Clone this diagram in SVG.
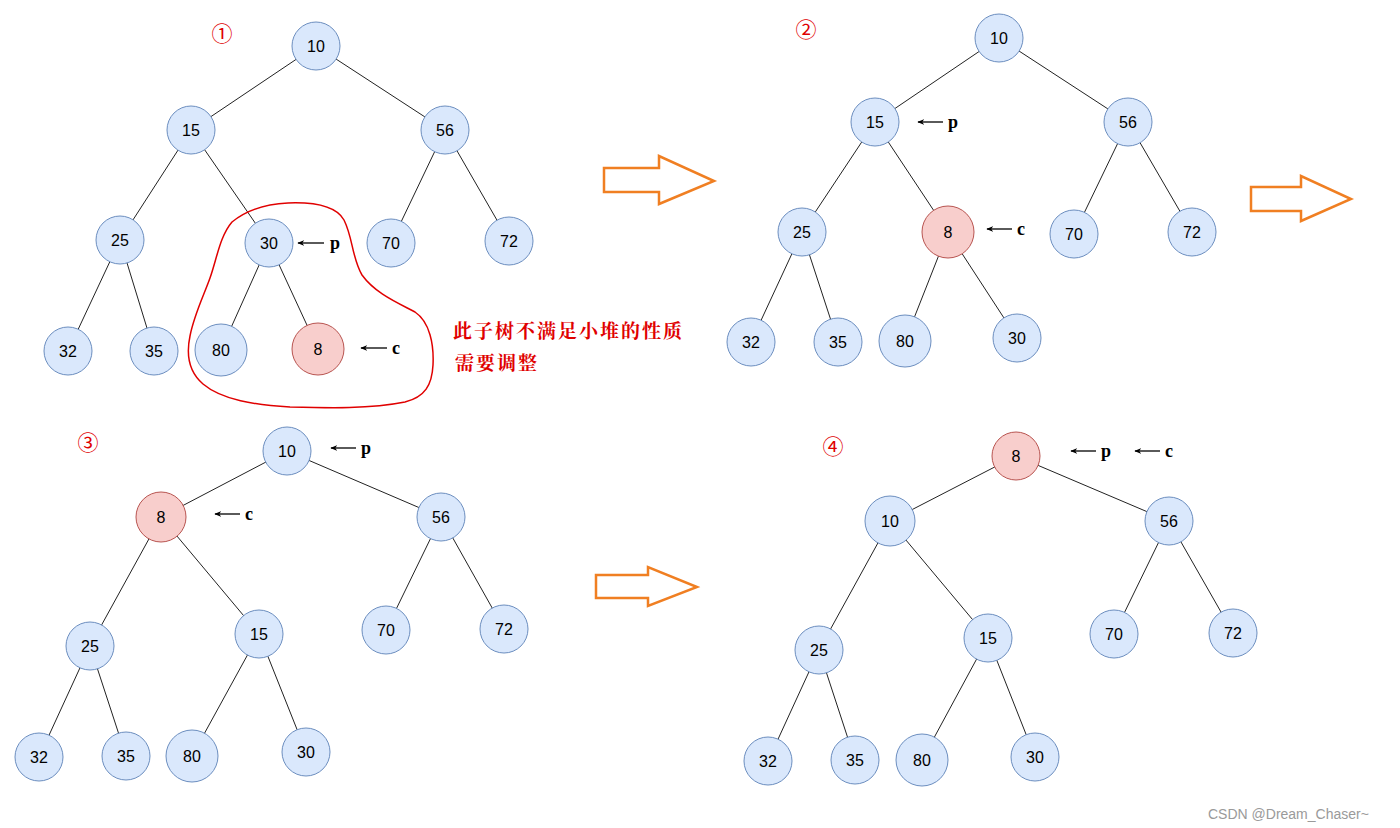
<svg xmlns="http://www.w3.org/2000/svg" width="1400" height="828" viewBox="0 0 1400 828">
<style>
.n{fill:#dae8fc;stroke:#6c8ebf;stroke-width:1}
.r{fill:#f8cecc;stroke:#b85450;stroke-width:1}
.t{font-family:"Liberation Sans",Arial,sans-serif;font-size:16px;fill:#000;text-anchor:middle;dominant-baseline:central}
.e{stroke:#222;stroke-width:1;fill:none}
.pa{stroke:#000;stroke-width:1.3;fill:none;marker-end:url(#ah)}
.pl{font-family:"Liberation Serif","Times New Roman",serif;font-size:18px;font-weight:bold;fill:#000;dominant-baseline:central}
.num{font-family:"Noto Sans CJK SC","DejaVu Sans",sans-serif;font-size:21px;fill:#e00000;text-anchor:middle;dominant-baseline:central}
.big{fill:#fff;stroke:#f07f22;stroke-width:2.5;stroke-linejoin:miter}
.note{font-family:"Noto Serif CJK SC","Noto Sans CJK SC",serif;font-size:19px;letter-spacing:2px;fill:#e00000;font-weight:bold}
</style>
<defs>
<marker id="ah" viewBox="0 0 10 10" refX="9" refY="5" markerWidth="7" markerHeight="7" orient="auto" markerUnits="userSpaceOnUse"><path d="M0,1 L10,5 L0,9 L3,5 Z" fill="#000"/></marker>
</defs>

<g id="connectors">
<line class="e" x1="316" y1="46" x2="191" y2="130"/>
<line class="e" x1="316" y1="46" x2="445" y2="130"/>
<line class="e" x1="191" y1="130" x2="120" y2="240"/>
<line class="e" x1="191" y1="130" x2="269" y2="243"/>
<line class="e" x1="445" y1="130" x2="391" y2="243"/>
<line class="e" x1="445" y1="130" x2="509" y2="241"/>
<line class="e" x1="120" y1="240" x2="68" y2="351"/>
<line class="e" x1="120" y1="240" x2="154" y2="351"/>
<line class="e" x1="269" y1="243" x2="221" y2="350"/>
<line class="e" x1="269" y1="243" x2="318" y2="349"/>
<line class="e" x1="999" y1="38" x2="875" y2="122"/>
<line class="e" x1="999" y1="38" x2="1128" y2="122"/>
<line class="e" x1="875" y1="122" x2="802" y2="232"/>
<line class="e" x1="875" y1="122" x2="948" y2="232"/>
<line class="e" x1="1128" y1="122" x2="1074" y2="234"/>
<line class="e" x1="1128" y1="122" x2="1192" y2="232"/>
<line class="e" x1="802" y1="232" x2="751" y2="342"/>
<line class="e" x1="802" y1="232" x2="838" y2="342"/>
<line class="e" x1="948" y1="232" x2="905" y2="341"/>
<line class="e" x1="948" y1="232" x2="1017" y2="338"/>
<line class="e" x1="287" y1="451" x2="161" y2="517"/>
<line class="e" x1="287" y1="451" x2="441" y2="517"/>
<line class="e" x1="161" y1="517" x2="90" y2="646"/>
<line class="e" x1="161" y1="517" x2="259" y2="634"/>
<line class="e" x1="441" y1="517" x2="386" y2="630"/>
<line class="e" x1="441" y1="517" x2="504" y2="629"/>
<line class="e" x1="90" y1="646" x2="39" y2="757"/>
<line class="e" x1="90" y1="646" x2="126" y2="756"/>
<line class="e" x1="259" y1="634" x2="192" y2="756"/>
<line class="e" x1="259" y1="634" x2="306" y2="752"/>
<line class="e" x1="1016" y1="456" x2="890" y2="521"/>
<line class="e" x1="1016" y1="456" x2="1169" y2="521"/>
<line class="e" x1="890" y1="521" x2="819" y2="650"/>
<line class="e" x1="890" y1="521" x2="988" y2="638"/>
<line class="e" x1="1169" y1="521" x2="1114" y2="634"/>
<line class="e" x1="1169" y1="521" x2="1233" y2="633"/>
<line class="e" x1="819" y1="650" x2="768" y2="761"/>
<line class="e" x1="819" y1="650" x2="855" y2="760"/>
<line class="e" x1="988" y1="638" x2="922" y2="760"/>
<line class="e" x1="988" y1="638" x2="1035" y2="757"/>
</g>

<g id="p1-10"><circle class="n" cx="316" cy="46" r="24"/><text class="t" x="316" y="46">10</text></g>
<g id="p1-15"><circle class="n" cx="191" cy="130" r="24"/><text class="t" x="191" y="130">15</text></g>
<g id="p1-56"><circle class="n" cx="445" cy="130" r="24"/><text class="t" x="445" y="130">56</text></g>
<g id="p1-25"><circle class="n" cx="120" cy="240" r="24"/><text class="t" x="120" y="240">25</text></g>
<g id="p1-30"><circle class="n" cx="269" cy="243" r="24"/><text class="t" x="269" y="243">30</text></g>
<g id="p1-70"><circle class="n" cx="391" cy="243" r="24"/><text class="t" x="391" y="243">70</text></g>
<g id="p1-72"><circle class="n" cx="509" cy="241" r="24"/><text class="t" x="509" y="241">72</text></g>
<g id="p1-32"><circle class="n" cx="68" cy="351" r="24"/><text class="t" x="68" y="351">32</text></g>
<g id="p1-35"><circle class="n" cx="154" cy="351" r="24"/><text class="t" x="154" y="351">35</text></g>
<g id="p1-80"><circle class="n" cx="221" cy="350" r="26"/><text class="t" x="221" y="350">80</text></g>
<g id="p1-8"><circle class="r" cx="318" cy="349" r="26"/><text class="t" x="318" y="349">8</text></g>

<g id="p2-10"><circle class="n" cx="999" cy="38" r="24"/><text class="t" x="999" y="38">10</text></g>
<g id="p2-15"><circle class="n" cx="875" cy="122" r="24"/><text class="t" x="875" y="122">15</text></g>
<g id="p2-56"><circle class="n" cx="1128" cy="122" r="24"/><text class="t" x="1128" y="122">56</text></g>
<g id="p2-25"><circle class="n" cx="802" cy="232" r="24"/><text class="t" x="802" y="232">25</text></g>
<g id="p2-8"><circle class="r" cx="948" cy="232" r="26"/><text class="t" x="948" y="232">8</text></g>
<g id="p2-70"><circle class="n" cx="1074" cy="234" r="24"/><text class="t" x="1074" y="234">70</text></g>
<g id="p2-72"><circle class="n" cx="1192" cy="232" r="24"/><text class="t" x="1192" y="232">72</text></g>
<g id="p2-32"><circle class="n" cx="751" cy="342" r="24"/><text class="t" x="751" y="342">32</text></g>
<g id="p2-35"><circle class="n" cx="838" cy="342" r="24"/><text class="t" x="838" y="342">35</text></g>
<g id="p2-80"><circle class="n" cx="905" cy="341" r="26"/><text class="t" x="905" y="341">80</text></g>
<g id="p2-30"><circle class="n" cx="1017" cy="338" r="24"/><text class="t" x="1017" y="338">30</text></g>

<g id="p3-10"><circle class="n" cx="287" cy="451" r="24"/><text class="t" x="287" y="451">10</text></g>
<g id="p3-8"><circle class="r" cx="161" cy="517" r="25"/><text class="t" x="161" y="517">8</text></g>
<g id="p3-56"><circle class="n" cx="441" cy="517" r="24"/><text class="t" x="441" y="517">56</text></g>
<g id="p3-25"><circle class="n" cx="90" cy="646" r="24"/><text class="t" x="90" y="646">25</text></g>
<g id="p3-15"><circle class="n" cx="259" cy="634" r="24"/><text class="t" x="259" y="634">15</text></g>
<g id="p3-70"><circle class="n" cx="386" cy="630" r="24"/><text class="t" x="386" y="630">70</text></g>
<g id="p3-72"><circle class="n" cx="504" cy="629" r="24"/><text class="t" x="504" y="629">72</text></g>
<g id="p3-32"><circle class="n" cx="39" cy="757" r="24"/><text class="t" x="39" y="757">32</text></g>
<g id="p3-35"><circle class="n" cx="126" cy="756" r="24"/><text class="t" x="126" y="756">35</text></g>
<g id="p3-80"><circle class="n" cx="192" cy="756" r="26"/><text class="t" x="192" y="756">80</text></g>
<g id="p3-30"><circle class="n" cx="306" cy="752" r="24"/><text class="t" x="306" y="752">30</text></g>

<g id="p4-8"><circle class="r" cx="1016" cy="456" r="24"/><text class="t" x="1016" y="456">8</text></g>
<g id="p4-10"><circle class="n" cx="890" cy="521" r="25"/><text class="t" x="890" y="521">10</text></g>
<g id="p4-56"><circle class="n" cx="1169" cy="521" r="24"/><text class="t" x="1169" y="521">56</text></g>
<g id="p4-25"><circle class="n" cx="819" cy="650" r="24"/><text class="t" x="819" y="650">25</text></g>
<g id="p4-15"><circle class="n" cx="988" cy="638" r="24"/><text class="t" x="988" y="638">15</text></g>
<g id="p4-70"><circle class="n" cx="1114" cy="634" r="24"/><text class="t" x="1114" y="634">70</text></g>
<g id="p4-72"><circle class="n" cx="1233" cy="633" r="24"/><text class="t" x="1233" y="633">72</text></g>
<g id="p4-32"><circle class="n" cx="768" cy="761" r="24"/><text class="t" x="768" y="761">32</text></g>
<g id="p4-35"><circle class="n" cx="855" cy="760" r="24"/><text class="t" x="855" y="760">35</text></g>
<g id="p4-80"><circle class="n" cx="922" cy="760" r="26"/><text class="t" x="922" y="760">80</text></g>
<g id="p4-30"><circle class="n" cx="1035" cy="757" r="24"/><text class="t" x="1035" y="757">30</text></g>

<g id="pointers">
<line class="pa" x1="324" y1="243" x2="298" y2="243"/><text class="pl" x="330" y="243">p</text>
<line class="pa" x1="387" y1="348" x2="361" y2="348"/><text class="pl" x="392" y="348">c</text>
<line class="pa" x1="943" y1="122" x2="918" y2="122"/><text class="pl" x="948" y="122">p</text>
<line class="pa" x1="1012" y1="229" x2="987" y2="229"/><text class="pl" x="1017" y="229">c</text>
<line class="pa" x1="356" y1="448" x2="331" y2="448"/><text class="pl" x="361" y="448">p</text>
<line class="pa" x1="240" y1="514" x2="215" y2="514"/><text class="pl" x="245" y="514">c</text>
<line class="pa" x1="1096" y1="451" x2="1071" y2="451"/><text class="pl" x="1101" y="451">p</text>
<line class="pa" x1="1160" y1="451" x2="1135" y2="451"/><text class="pl" x="1165" y="451">c</text>
</g>

<g id="steps">
<text class="num" x="222" y="32">①</text>
<text class="num" x="806" y="28">②</text>
<text class="num" x="88" y="441">③</text>
<text class="num" x="833" y="445">④</text>
</g>

<g id="loop">
<path d="M232,222 C248,209 266,204 288,203 C314,202 336,206 344,220 C353,238 352,258 362,275 C375,293 396,302 415,312 C430,322 434,345 433,365 C432,385 425,397 405,402 C370,409 330,408 290,407 C255,405 222,400 203,384 C189,372 186,355 190,336 C194,315 204,295 210,278 C217,258 220,236 232,222 Z" fill="none" stroke="#e00000" stroke-width="1.5"/>
</g>

<g id="note">
<text class="note" x="453" y="338">此子树不满足小堆的性质</text>
<text class="note" x="455" y="370">需要调整</text>
</g>

<g id="bigarrows">
<path class="big" d="M604,168 L659,168 L659,156 L714,181 L659,204 L659,192 L604,192 Z"/>
<path class="big" d="M1251,187 L1301,187 L1301,176 L1351,199 L1301,221 L1301,211 L1251,211 Z"/>
<path class="big" d="M596,575 L648,575 L648,567 L697,587 L648,606 L648,598 L596,598 Z"/>
</g>

<text x="1208" y="819" font-family="'Liberation Sans',Arial,sans-serif" font-size="14" fill="#9a9a9a">CSDN @Dream_Chaser~</text>
</svg>
